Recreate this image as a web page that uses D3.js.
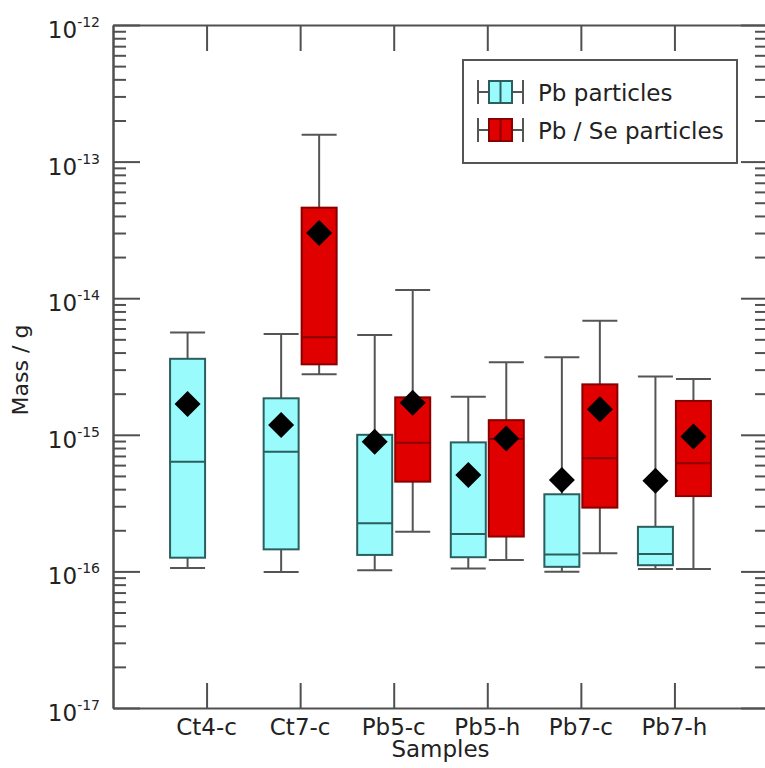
<!DOCTYPE html>
<html>
<head>
<meta charset="utf-8">
<script src="https://cdn.jsdelivr.net/npm/d3@7/dist/d3.min.js"></script>
<style>
  html, body { margin: 0; padding: 0; background: #fff; }
  svg { display: block; font-family: "DejaVu Sans", sans-serif; }
</style>
</head>
<body>
<svg id="chart" width="765" height="768"></svg>
<script>
// ---- data ----
const categories = ["Ct4-c", "Ct7-c", "Pb5-c", "Pb5-h", "Pb7-c", "Pb7-h"];

// Pb particles (cyan)
const pbLow  = [1.06e-16, 9.9e-17, 1.02e-16, 1.05e-16, 9.95e-17, 1.04e-16];
const pbQ1   = [1.26e-16, 1.45e-16, 1.32e-16, 1.27e-16, 1.08e-16, 1.11e-16];
const pbMed  = [6.35e-16, 7.5e-16, 2.25e-16, 1.88e-16, 1.33e-16, 1.34e-16];
const pbQ3   = [3.6e-15, 1.85e-15, 1.0e-15, 8.8e-16, 3.67e-16, 2.12e-16];
const pbHigh = [5.6e-15, 5.47e-15, 5.37e-15, 1.9e-15, 3.69e-15, 2.67e-15];
const pbMean = [1.68e-15, 1.18e-15, 8.9e-16, 5.08e-16, 4.67e-16, 4.61e-16];

// Pb / Se particles (red)
const seLow  = [null, 2.77e-15, 1.95e-16, 1.21e-16, 1.36e-16, 1.04e-16];
const seQ1   = [null, 3.28e-15, 4.54e-16, 1.8e-16, 2.93e-16, 3.56e-16];
const seMed  = [null, 5.17e-15, 8.75e-16, 9.3e-16, 6.73e-16, 6.18e-16];
const seQ3   = [null, 4.6e-14, 1.88e-15, 1.28e-15, 2.34e-15, 1.77e-15];
const seHigh = [null, 1.57e-13, 1.15e-14, 3.39e-15, 6.84e-15, 2.56e-15];
const seMean = [null, 3.0e-14, 1.72e-15, 9.4e-16, 1.54e-15, 9.7e-16];

const majorExps = [-12, -13, -14, -15, -16, -17];
const seriesNames = ["Pb particles", "Pb / Se particles"];

// ---- layout ----
const svg = d3.select("#chart");
const L = 113, R = 768, T = 25, B = 708;
const axisColor = "#505050";

const x = d3.scaleLinear().domain([0, 7]).range([L, R]);
const y = d3.scaleLog().domain([1e-17, 1e-12]).range([B, T]);

const majorVals = majorExps.map(e => Math.pow(10, e));
const minorVals = [];
for (let e = -17; e < -12; e++) for (let k = 2; k <= 9; k++) minorVals.push(k * Math.pow(10, e));
const catPos = categories.map((c, i) => i + 1);

function styleAxis(g) {
  g.selectAll("path, line").attr("stroke", axisColor).attr("stroke-width", 2);
  g.selectAll("text").remove();
}

// left axis (ticks inward)
svg.append("g").attr("transform", `translate(${L},0)`)
  .call(d3.axisRight(y).tickValues(majorVals).tickSize(27).tickSizeOuter(0).tickFormat(""))
  .call(styleAxis);
svg.append("g").attr("transform", `translate(${L},0)`)
  .call(d3.axisRight(y).tickValues(minorVals).tickSize(13).tickSizeOuter(0).tickFormat(""))
  .call(styleAxis);
// right axis
svg.append("g").attr("transform", `translate(${R},0)`)
  .call(d3.axisLeft(y).tickValues(majorVals).tickSize(27).tickSizeOuter(0).tickFormat(""))
  .call(styleAxis);
svg.append("g").attr("transform", `translate(${R},0)`)
  .call(d3.axisLeft(y).tickValues(minorVals).tickSize(13).tickSizeOuter(0).tickFormat(""))
  .call(styleAxis);
// bottom axis
svg.append("g").attr("transform", `translate(0,${B})`)
  .call(d3.axisTop(x).tickValues(catPos).tickSize(25).tickSizeOuter(0).tickFormat(""))
  .call(styleAxis);
// top axis
svg.append("g").attr("transform", `translate(0,${T})`)
  .call(d3.axisBottom(x).tickValues(catPos).tickSize(26).tickSizeOuter(0).tickFormat(""))
  .call(styleAxis);

// y tick labels
majorExps.forEach(e => {
  const t = svg.append("text")
    .attr("x", 100).attr("y", y(Math.pow(10, e)) + 13)
    .attr("text-anchor", "end").attr("fill", "#222")
    .style("font-size", "23px");
  t.append("tspan").text("10");
  t.append("tspan").attr("dy", -11).style("font-size", "14px").text(String(e));
});

// x labels
svg.selectAll(".xl").data(categories).enter().append("text")
  .attr("x", (d, i) => x(i + 1)).attr("y", 735)
  .attr("text-anchor", "middle").attr("fill", "#222")
  .style("font-size", "23px").text(d => d);

svg.append("text").attr("x", x(3.5)).attr("y", 757)
  .attr("text-anchor", "middle").attr("fill", "#222")
  .style("font-size", "23px").text("Samples");

svg.append("text").attr("transform", "translate(28,370) rotate(-90)")
  .attr("text-anchor", "middle").attr("fill", "#222")
  .style("font-size", "22px").text("Mass / g");

// ---- boxes ----
const boxW = 35;
const series = [
  { off: -19, fill: "#99fbfb", stroke: "#2b5e5e", med: "#2b5e5e",
    low: pbLow, q1: pbQ1, med_: pbMed, q3: pbQ3, high: pbHigh, mean: pbMean },
  { off: 19, fill: "#e00000", stroke: "#8a0000", med: "#8a0000",
    low: seLow, q1: seQ1, med_: seMed, q3: seQ3, high: seHigh, mean: seMean }
];

const plot = svg.append("g");
series.forEach(s => {
  categories.forEach((c, i) => {
    if (s.low[i] == null) return;
    const cx = x(i + 1) + s.off;
    const g = plot.append("g");
    g.append("line").attr("x1", cx).attr("x2", cx)
      .attr("y1", y(s.low[i])).attr("y2", y(s.high[i]))
      .attr("stroke", "#555").attr("stroke-width", 2);
    [s.low[i], s.high[i]].forEach(v => {
      g.append("line").attr("x1", cx - boxW / 2).attr("x2", cx + boxW / 2)
        .attr("y1", y(v)).attr("y2", y(v))
        .attr("stroke", "#555").attr("stroke-width", 2);
    });
    g.append("rect").attr("x", cx - boxW / 2).attr("width", boxW)
      .attr("y", y(s.q3[i])).attr("height", y(s.q1[i]) - y(s.q3[i]))
      .attr("fill", s.fill).attr("stroke", s.stroke).attr("stroke-width", 2);
    g.append("line").attr("x1", cx - boxW / 2).attr("x2", cx + boxW / 2)
      .attr("y1", y(s.med_[i])).attr("y2", y(s.med_[i]))
      .attr("stroke", s.med).attr("stroke-width", 2);
  });
});
// means on top
series.forEach(s => {
  categories.forEach((c, i) => {
    if (s.mean[i] == null) return;
    const cx = x(i + 1) + s.off, cy = y(s.mean[i]);
    const h = 13;
    plot.append("path")
      .attr("d", `M${cx},${cy - h}L${cx + h},${cy}L${cx},${cy + h}L${cx - h},${cy}Z`)
      .attr("fill", "#000");
  });
});

// ---- legend ----
const lg = svg.append("g");
lg.append("rect").attr("x", 463).attr("y", 60).attr("width", 274).attr("height", 103)
  .attr("fill", "#fff").attr("stroke", "#555").attr("stroke-width", 2);
const legRows = [{ cy: 92, s: series[0] }, { cy: 130, s: series[1] }];
legRows.forEach((r, k) => {
  const cy = r.cy;
  lg.append("line").attr("x1", 478).attr("x2", 523).attr("y1", cy).attr("y2", cy)
    .attr("stroke", "#555").attr("stroke-width", 2);
  [478, 523].forEach(xx => lg.append("line").attr("x1", xx).attr("x2", xx)
    .attr("y1", cy - 12).attr("y2", cy + 12).attr("stroke", "#555").attr("stroke-width", 2));
  lg.append("rect").attr("x", 489).attr("y", cy - 11).attr("width", 23).attr("height", 22)
    .attr("fill", r.s.fill).attr("stroke", r.s.stroke).attr("stroke-width", 2);
  lg.append("line").attr("x1", 500.5).attr("x2", 500.5).attr("y1", cy - 11).attr("y2", cy + 11)
    .attr("stroke", r.s.med).attr("stroke-width", 2);
  lg.append("text").attr("x", 538).attr("y", cy + 9).attr("fill", "#222")
    .style("font-size", "23px").text(seriesNames[k]);
});
</script>
</body>
</html>
